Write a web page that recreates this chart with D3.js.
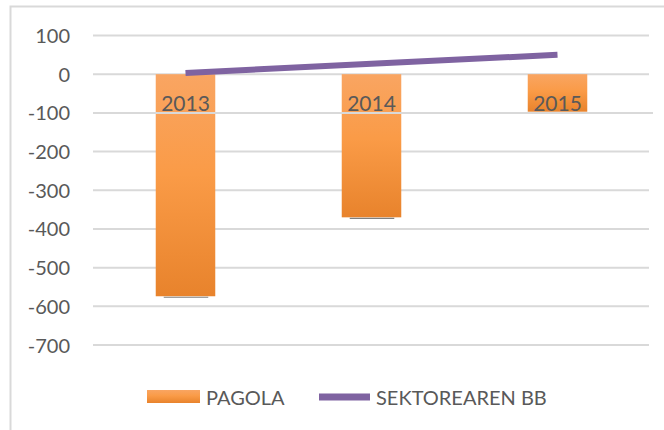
<!DOCTYPE html>
<html>
<head>
<meta charset="utf-8">
<script src="https://cdn.jsdelivr.net/npm/d3@7/dist/d3.min.js"></script>
<style>
  html, body { margin: 0; padding: 0; background: #fff; }
  svg { display: block; }
  text { font-family: Lato, "Open Sans", sans-serif; fill: #595959; }
</style>
</head>
<body>
<svg id="chart" width="664" height="430"></svg>
<script>
const years = ["2013", "2014", "2015"];
const pagola = [-574, -370, -97];
const sektorearenBB = [3, 27, 50];
const yTicks = [100, 0, -100, -200, -300, -400, -500, -600, -700];
const seriesNames = ["PAGOLA", "SEKTOREAREN BB"];

const svg = d3.select("#chart");
const defs = svg.append("defs");
const grad = defs.append("linearGradient").attr("id", "barGrad")
  .attr("x1", 0).attr("y1", 0).attr("x2", 0).attr("y2", 1);
grad.append("stop").attr("offset", "0%").attr("stop-color", "#F9A562");
grad.append("stop").attr("offset", "45%").attr("stop-color", "#FA9B47");
grad.append("stop").attr("offset", "100%").attr("stop-color", "#E8832C");

// chart frame
svg.append("path").attr("d", "M10.5,430 L10.5,6.5 L664,6.5")
  .attr("fill", "none").attr("stroke", "#D9D9D9").attr("stroke-width", 2);

const x = d3.scaleBand().domain(years).range([92.5, 650.5])
  .paddingInner(0.68).paddingOuter(0.34);
const y = d3.scaleLinear().domain([-700, 100]).range([345, 35.5]);

// gridlines
const grid = svg.append("g");
grid.selectAll("line").data(yTicks.filter(d => d !== -100)).join("line")
  .attr("x1", 93).attr("x2", 649)
  .attr("y1", d => y(d)).attr("y2", d => y(d))
  .attr("stroke", "#D9D9D9").attr("stroke-width", 2);

// y axis labels
const yAxis = d3.axisLeft(y).tickValues(yTicks).tickSize(0).tickPadding(0)
  .tickFormat(d => String(d));
const ya = svg.append("g").attr("transform", "translate(70,0)").call(yAxis);
ya.select(".domain").remove();
ya.selectAll("text").attr("font-size", 20).attr("font-family", "Lato")
  .attr("fill", "#595959").attr("dy", "0.35em");

// bars
svg.append("g").selectAll("rect").data(years).join("rect")
  .attr("x", d => x(d))
  .attr("width", x.bandwidth())
  .attr("y", y(0))
  .attr("height", (d, i) => y(pagola[i]) - y(0))
  .attr("fill", "url(#barGrad)");

// small shadow under bars
svg.append("g").selectAll("line").data(years).join("line")
  .attr("x1", d => x(d) + 8).attr("x2", d => x(d) + x.bandwidth() - 7)
  .attr("y1", (d, i) => y(pagola[i]) + 1).attr("y2", (d, i) => y(pagola[i]) + 1)
  .attr("stroke", "#7F7F7F").attr("stroke-width", 1.2);

// -100 line (category axis) drawn on top of bars
svg.append("line").attr("x1", 93).attr("x2", 653)
  .attr("y1", y(-100)).attr("y2", y(-100))
  .attr("stroke", "#D9D9D9").attr("stroke-width", 2);

// line series
const line = d3.line().x((d, i) => x(years[i]) + x.bandwidth() / 2).y(d => y(d));
svg.append("path").datum(sektorearenBB).attr("d", line)
  .attr("fill", "none").attr("stroke", "#7F63A1").attr("stroke-width", 6);

// category labels
svg.append("g").selectAll("text").data(years).join("text")
  .attr("x", d => x(d) + x.bandwidth() / 2)
  .attr("y", y(-100) - 2)
  .attr("text-anchor", "middle")
  .attr("font-size", 21)
  .text(d => d);

// legend
const lg = svg.append("g");
lg.append("rect").attr("x", 147).attr("y", 390).attr("width", 53).attr("height", 13)
  .attr("fill", "url(#barGrad)");
lg.append("text").attr("x", 206).attr("y", 405).attr("font-size", 20).text(seriesNames[0]);
lg.append("line").attr("x1", 319).attr("x2", 370).attr("y1", 397).attr("y2", 397)
  .attr("stroke", "#7F63A1").attr("stroke-width", 7);
lg.append("text").attr("x", 376).attr("y", 405).attr("font-size", 20).text(seriesNames[1]);
</script>
</body>
</html>
